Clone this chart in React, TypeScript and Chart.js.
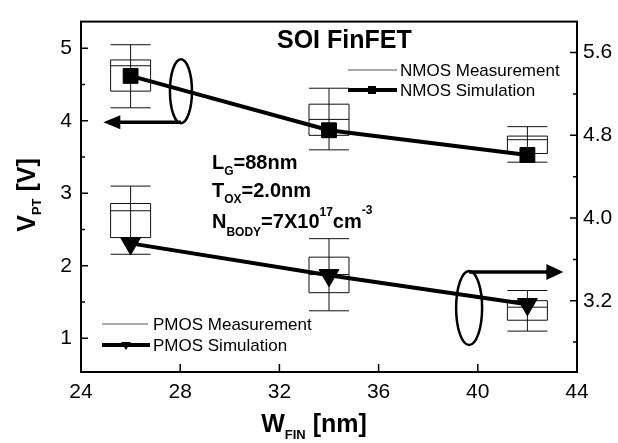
import React, { useEffect, useRef } from 'react';
import { Chart, registerables } from 'chart.js';

Chart.register(...registerables);

// ---------- data ----------
const finWidths = [26, 34, 42];
const nmosSimulation = [4.62, 3.87, 3.53];
const pmosSimulation = [2.31, 1.87, 1.47];

const nmosWhiskerHigh = [5.05, 4.45, 3.92];
const nmosQ3 = [4.84, 4.23, 3.79];
const nmosMedian = [4.76, 4.02, 3.74];
const nmosQ1 = [4.41, 3.8, 3.55];
const nmosWhiskerLow = [4.18, 3.6, 3.43];

const pmosWhiskerHigh = [3.1, 2.375, 1.66];
const pmosQ3 = [2.86, 2.12, 1.52];
const pmosMedian = [2.76, 1.88, 1.43];
const pmosQ1 = [2.39, 1.63, 1.25];
const pmosWhiskerLow = [2.16, 1.38, 1.1];

const xTicks = [24, 28, 32, 36, 40, 44];
const leftTicks = [1, 2, 3, 4, 5];
const leftMinorTicks = [1.5, 2.5, 3.5, 4.5];
const rightTicks = [3.2, 4.0, 4.8, 5.6];
const rightMinorTicks = [2.8, 3.6, 4.4, 5.2];

const FONT = "'Liberation Sans', Arial, Helvetica, sans-serif";

type Part = { t: string; size: number; dy?: number };

function rich(ctx: CanvasRenderingContext2D, x: number, y: number, parts: Part[], bold = true) {
  let cx = x;
  for (const p of parts) {
    ctx.font = `${bold ? 'bold ' : ''}${p.size}px ${FONT}`;
    ctx.fillText(p.t, cx, y + (p.dy || 0));
    cx += ctx.measureText(p.t).width;
  }
  return cx - x;
}

function measureRich(ctx: CanvasRenderingContext2D, parts: Part[], bold = true) {
  let w = 0;
  for (const p of parts) {
    ctx.font = `${bold ? 'bold ' : ''}${p.size}px ${FONT}`;
    w += ctx.measureText(p.t).width;
  }
  return w;
}

const boxPlugin = {
  id: 'boxes',
  beforeDatasetsDraw(chart: any) {
    const { ctx, scales } = chart;
    const x = scales.x;
    const y = scales.y;
    const half = 20;
    ctx.save();
    ctx.strokeStyle = '#111';
    ctx.lineWidth = 1;
    const drawSet = (hi: number[], q3: number[], med: number[], q1: number[], lo: number[]) => {
      finWidths.forEach((w, i) => {
        const px = x.getPixelForValue(w);
        const yHi = y.getPixelForValue(hi[i]);
        const yQ3 = y.getPixelForValue(q3[i]);
        const yMed = y.getPixelForValue(med[i]);
        const yQ1 = y.getPixelForValue(q1[i]);
        const yLo = y.getPixelForValue(lo[i]);
        ctx.beginPath();
        ctx.moveTo(px, yHi);
        ctx.lineTo(px, yLo);
        ctx.moveTo(px - half, yHi);
        ctx.lineTo(px + half, yHi);
        ctx.moveTo(px - half, yLo);
        ctx.lineTo(px + half, yLo);
        ctx.moveTo(px - half, yMed);
        ctx.lineTo(px + half, yMed);
        ctx.rect(px - half, yQ3, 2 * half, yQ1 - yQ3);
        ctx.stroke();
      });
    };
    drawSet(nmosWhiskerHigh, nmosQ3, nmosMedian, nmosQ1, nmosWhiskerLow);
    drawSet(pmosWhiskerHigh, pmosQ3, pmosMedian, pmosQ1, pmosWhiskerLow);
    ctx.restore();
  },
  afterDraw(chart: any) {
    const { ctx, chartArea, scales } = chart;
    const x = scales.x;
    const y = scales.y;
    const y2 = scales.y2;
    const { left, right, top, bottom } = chartArea;
    ctx.save();
    // frame
    ctx.strokeStyle = '#000';
    ctx.lineWidth = 2;
    ctx.strokeRect(left, top, right - left, bottom - top);
    // ticks (inward)
    ctx.lineWidth = 1.5;
    ctx.beginPath();
    xTicks.forEach((v) => {
      const px = x.getPixelForValue(v);
      ctx.moveTo(px, bottom);
      ctx.lineTo(px, bottom - 8);
    });
    leftTicks.forEach((v) => {
      const py = y.getPixelForValue(v);
      ctx.moveTo(left, py);
      ctx.lineTo(left + 7, py);
    });
    leftMinorTicks.forEach((v) => {
      const py = y.getPixelForValue(v);
      ctx.moveTo(left, py);
      ctx.lineTo(left + 4, py);
    });
    rightTicks.forEach((v) => {
      const py = y2.getPixelForValue(v);
      ctx.moveTo(right, py);
      ctx.lineTo(right - 7, py);
    });
    rightMinorTicks.forEach((v) => {
      const py = y2.getPixelForValue(v);
      ctx.moveTo(right, py);
      ctx.lineTo(right - 4, py);
    });
    ctx.stroke();

    ctx.fillStyle = '#000';
    ctx.textAlign = 'left';
    ctx.textBaseline = 'alphabetic';

    // axis titles
    const vParts: Part[] = [
      { t: 'V', size: 25 },
      { t: 'PT', size: 13, dy: 6 },
      { t: ' [V]', size: 25 },
    ];
    const vw = measureRich(ctx, vParts);
    ctx.save();
    ctx.translate(35, 195 + vw / 2);
    ctx.rotate(-Math.PI / 2);
    rich(ctx, 0, 0, vParts);
    ctx.restore();

    const wParts: Part[] = [
      { t: 'W', size: 25 },
      { t: 'FIN', size: 13, dy: 7 },
      { t: ' [nm]', size: 25 },
    ];
    const ww = measureRich(ctx, wParts);
    rich(ctx, 314 - ww / 2, 432, wParts);

    // title
    ctx.font = `bold 25px ${FONT}`;
    ctx.fillText('SOI FinFET', 277, 48);

    // parameters
    rich(ctx, 212, 169, [
      { t: 'L', size: 20 },
      { t: 'G', size: 12, dy: 6 },
      { t: '=88nm', size: 20 },
    ]);
    rich(ctx, 212, 197, [
      { t: 'T', size: 20 },
      { t: 'OX', size: 12, dy: 6 },
      { t: '=2.0nm', size: 20 },
    ]);
    rich(ctx, 212, 228, [
      { t: 'N', size: 20 },
      { t: 'BODY', size: 12, dy: 8 },
      { t: '=7X10', size: 20 },
      { t: '17', size: 12, dy: -12 },
      { t: 'cm', size: 20 },
      { t: '-3', size: 12, dy: -14 },
    ]);

    // legends
    ctx.textBaseline = 'middle';
    ctx.font = `17px ${FONT}`;
    const legendLine = (x1: number, x2: number, yy: number, thick: boolean) => {
      ctx.beginPath();
      ctx.lineWidth = thick ? 4 : 1;
      ctx.strokeStyle = thick ? '#000' : '#555';
      ctx.moveTo(x1, yy);
      ctx.lineTo(x2, yy);
      ctx.stroke();
    };
    legendLine(348, 397, 70, false);
    ctx.fillText('NMOS Measurement', 400, 71);
    legendLine(348, 397, 90, true);
    ctx.fillRect(368, 86, 8, 8);
    ctx.fillText('NMOS Simulation', 400, 91);

    legendLine(102, 148, 324, false);
    ctx.fillText('PMOS Measurement', 153, 325);
    legendLine(102, 150, 345, true);
    ctx.beginPath();
    ctx.moveTo(121, 342);
    ctx.lineTo(131, 342);
    ctx.lineTo(126, 350);
    ctx.closePath();
    ctx.fill();
    ctx.fillText('PMOS Simulation', 153, 346);

    // ellipses with arrows
    ctx.strokeStyle = '#000';
    ctx.lineWidth = 2.5;
    const nx = x.getPixelForValue(28.03);
    const ny = y.getPixelForValue(4.41);
    ctx.beginPath();
    ctx.ellipse(nx, ny, 11, 32, 0, 0, Math.PI * 2);
    ctx.stroke();
    const nTip = x.getPixelForValue(24.9);
    ctx.lineWidth = 3.5;
    ctx.beginPath();
    ctx.moveTo(nx, ny + 31);
    ctx.lineTo(nTip + 14, ny + 31);
    ctx.stroke();
    ctx.beginPath();
    ctx.moveTo(nTip, ny + 31);
    ctx.lineTo(nTip + 17, ny + 24);
    ctx.lineTo(nTip + 17, ny + 38);
    ctx.closePath();
    ctx.fill();

    const qx = x.getPixelForValue(39.65);
    const qy = y.getPixelForValue(1.42);
    ctx.lineWidth = 2.5;
    ctx.beginPath();
    ctx.ellipse(qx, qy, 13, 37, 0, 0, Math.PI * 2);
    ctx.stroke();
    const qTip = x.getPixelForValue(43.45);
    ctx.lineWidth = 3.5;
    ctx.beginPath();
    ctx.moveTo(qx, qy - 36);
    ctx.lineTo(qTip - 14, qy - 36);
    ctx.stroke();
    ctx.beginPath();
    ctx.moveTo(qTip, qy - 36);
    ctx.lineTo(qTip - 17, qy - 44);
    ctx.lineTo(qTip - 17, qy - 28);
    ctx.closePath();
    ctx.fill();

    ctx.restore();
  },
};

export default function App() {
  const ref = useRef<HTMLCanvasElement | null>(null);
  useEffect(() => {
    if (!ref.current) return;
    const chart = new Chart(ref.current, {
      type: 'line',
      data: {
        datasets: [
          {
            label: 'NMOS Simulation',
            data: finWidths.map((w, i) => ({ x: w, y: nmosSimulation[i] })),
            borderColor: '#000',
            backgroundColor: '#000',
            borderWidth: 4,
            pointStyle: 'rect',
            pointRadius: 10.5,
            pointBorderWidth: 1,
            pointBackgroundColor: '#000',
            pointBorderColor: '#000',
            yAxisID: 'y',
          },
          {
            label: 'PMOS Simulation',
            data: finWidths.map((w, i) => ({ x: w, y: pmosSimulation[i] })),
            borderColor: '#000',
            backgroundColor: '#000',
            borderWidth: 4,
            pointStyle: 'triangle',
            pointRotation: 180,
            pointRadius: 11.5,
            pointBorderWidth: 1,
            pointBackgroundColor: '#000',
            pointBorderColor: '#000',
            yAxisID: 'y',
          },
        ],
      },
      options: {
        responsive: false,
        animation: false,
        layout: { padding: { top: 18, left: 0, right: 0, bottom: 0 } },
        plugins: {
          legend: { display: false },
          tooltip: { enabled: false },
          title: { display: false },
        },
        scales: {
          x: {
            type: 'linear',
            min: 24,
            max: 44,
            grid: { display: false, drawTicks: false },
            border: { display: false },
            ticks: {
              color: '#000',
              font: { size: 21, family: FONT },
              padding: 8,
              autoSkip: false,
              maxRotation: 0,
            },
            afterBuildTicks: (s: any) => {
              s.ticks = xTicks.map((v) => ({ value: v }));
            },
            afterFit: (s: any) => {
              s.height = 71;
            },
          },
          y: {
            type: 'linear',
            position: 'left',
            min: 0.536,
            max: 5.369,
            grid: { display: false, drawTicks: false },
            border: { display: false },
            ticks: {
              color: '#000',
              font: { size: 21, family: FONT },
              padding: 9,
              autoSkip: false,
            },
            afterBuildTicks: (s: any) => {
              s.ticks = leftTicks.map((v) => ({ value: v }));
            },
            afterFit: (s: any) => {
              s.width = 81;
            },
          },
          y2: {
            type: 'linear',
            position: 'right',
            min: 2.511,
            max: 5.9,
            grid: { display: false, drawTicks: false },
            border: { display: false },
            ticks: {
              color: '#000',
              font: { size: 21, family: FONT },
              padding: 6,
              autoSkip: false,
              callback: (v: any) => Number(v).toFixed(1),
            },
            afterBuildTicks: (s: any) => {
              s.ticks = rightTicks.map((v) => ({ value: v }));
            },
            afterFit: (s: any) => {
              s.width = 41;
            },
          },
        },
      },
      plugins: [boxPlugin],
    } as any);
    return () => chart.destroy();
  }, []);
  return (
    <canvas
      ref={ref}
      width={618}
      height={443}
      style={{ position: 'fixed', left: 0, top: 0, width: 618, height: 443, display: 'block', background: '#fff' }}
    />
  );
}
